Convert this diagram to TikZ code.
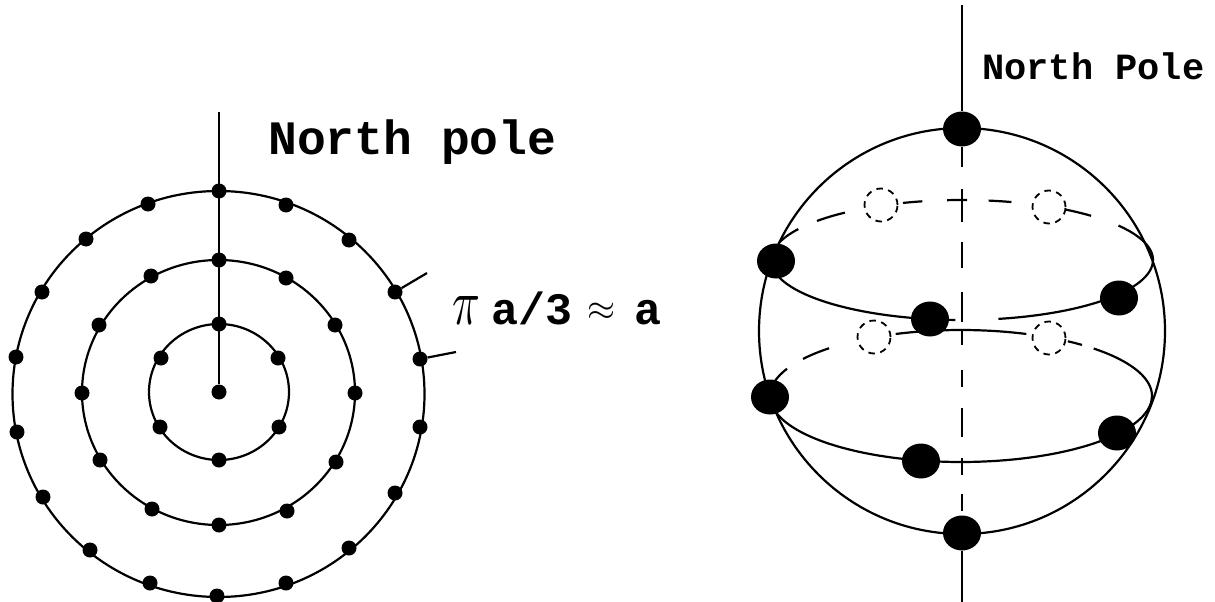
\documentclass[tikz,border=0pt]{standalone}
\usepackage{fontspec}
\setmainfont{Liberation Mono}[BoldFont={Liberation Mono Bold}]
\usetikzlibrary{shapes.geometric}
\newcommand{\ringarc}[6]{plot[smooth,domain=#5:#6,samples=30] ({#1+#3*cos(\x)},{#2+#4*sin(\x)})}
\tikzset{
  x=1pt,y=-1pt,
  line/.style={draw=black,line width=2.2pt},
  thindash/.style={draw=black,line width=1.8pt,dash pattern=on 6.5pt off 5.5pt},
  sdot/.style={circle,fill=black,draw=none,inner sep=0pt,minimum size=15pt},
  bdot/.style={ellipse,fill=black,draw=none,inner sep=0pt,minimum width=38pt,minimum height=35pt},
  gdot/.style={circle,fill=white,thindash,inner sep=0pt,minimum size=33pt},
  lab/.style={inner sep=0pt,anchor=base west,font=\bfseries},
}
\begin{document}
\begin{tikzpicture}
\useasboundingbox (0,0) rectangle (1215,602);
% --- left figure
\draw[line] (218.5,394) ellipse [x radius=206,y radius=203];
\draw[line] (218.5,392.5) ellipse [x radius=136.5,y radius=132.5];
\draw[line] (219,392) ellipse [x radius=70,y radius=68];
\coordinate (ptop) at (219,112);
\coordinate (t1) at (427,273);
\coordinate (t2) at (456,352);
\foreach \n/\p in {c/{219,392},i1/{219,324},i2/{278,358},i3/{279,427},i4/{219,460},i5/{160,427},i6/{161,358},
 m1/{219,260},m2/{286,278},m3/{335,325},m4/{355,393},m5/{336,462},m6/{287,511},m7/{219,525},m8/{152,509},m9/{100,460},m10/{82,393},m11/{99,325},m12/{151,276},
 o1/{219,191},o2/{286,205},o3/{349,240},o4/{395,292},o5/{420,359},o6/{420,427},o7/{395,493},o8/{349,548},o9/{286,583},o10/{217,596},o11/{150,583},o12/{90,550},o13/{43,497},o14/{17,432},o15/{16,357},o16/{42,292},o17/{86,239},o18/{148,204}}
  \node[sdot] (\n) at (\p) {};
\draw[line] (ptop) -- (c);
\draw[line] (o4) -- (t1);
\draw[line] (o5) -- (t2);
\node[lab,font=\bfseries\fontsize{48}{48}\selectfont] (npl) at (268,154) {North pole};
\node[inner sep=0pt,anchor=center,xscale=4.6,yscale=6.5] (pilab) at (466,311) {$\pi$};
\node[lab,font=\bfseries\fontsize{45}{45}\selectfont] (alab) at (491,324) {a/3};
\node[inner sep=0pt,anchor=center,scale=3.6] (apx) at (601,312) {$\approx$};
\node[lab,font=\bfseries\fontsize{45}{45}\selectfont] (blab) at (634,324) {a};
% --- right figure
\draw[line] (962,331) circle [radius=203];
% upper ring
\draw[line] \ringarc{962}{260}{191}{60}{0}{79};
\draw[line] \ringarc{962}{260}{191}{60}{92}{178};
\draw[line] \ringarc{962}{260}{191}{60}{-35}{0};
\foreach \a/\b in {-57/-47.5,-82/-75,-94.5/-88.5,-108/-102,-139.4/-127.8,-163/-149}
  \draw[line] \ringarc{962}{260}{191}{60}{\a}{\b};
% lower ring
\draw[line] \ringarc{961}{396}{191}{66}{0}{178};
\draw[line] \ringarc{961}{396}{191}{66}{-46}{0};
\foreach \a/\b in {-56/-50.7,-110/-70,-145.8/-133.7,-167/-155.6}
  \draw[line] \ringarc{961}{396}{191}{66}{\a}{\b};
% axis
\coordinate (atop) at (962,5);
\coordinate (abot) at (962,602);
\foreach \a/\b in {147/167,189/222,242/268,292/322,330/345,370/387,408/437,458/475,494/511}
  \draw[line] (962,\a) -- (962,\b);
\foreach \n/\p in {g1/{881,205},g2/{1049,207},g3/{874,337},g4/{1049,338}}
  \node[gdot] (\n) at (\p) {};
\foreach \n/\p in {b1/{962,129},b2/{776,261},b3/{1119,298},b4/{930,319},b5/{770,397},b6/{1117,433},b7/{921,461},b8/{962,533}}
  \node[bdot] (\n) at (\p) {};
\draw[line] (atop) -- (b1);
\draw[line] (b8) -- (abot);
\node[lab,font=\bfseries\fontsize{37}{37}\selectfont] (npr) at (982,80) {North Pole};
\end{tikzpicture}
\end{document}
